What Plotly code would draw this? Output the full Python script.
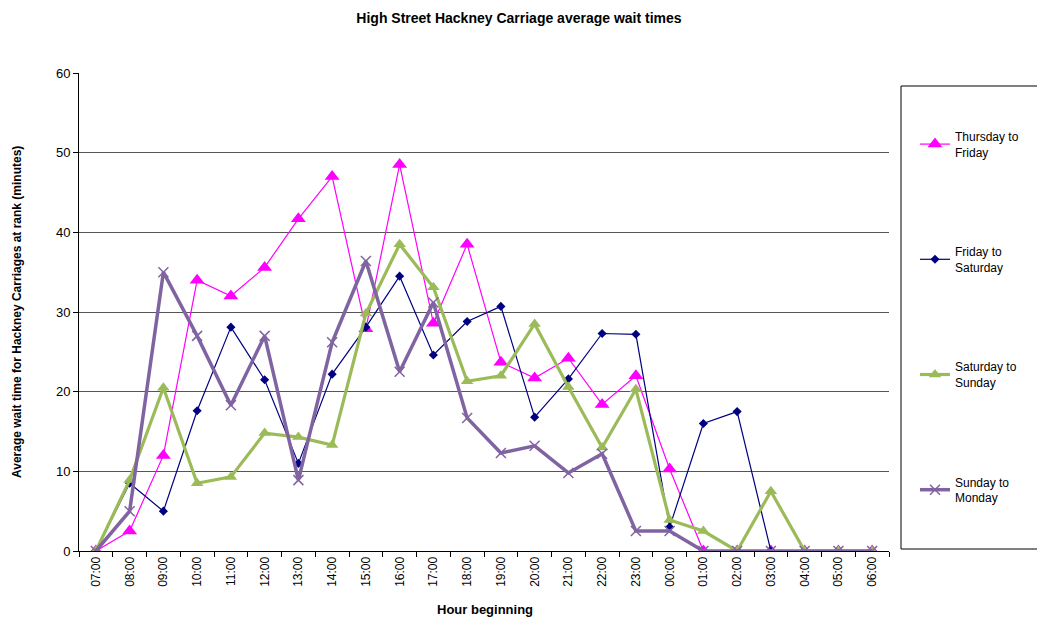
import plotly.graph_objects as go

hours = ["07:00","08:00","09:00","10:00","11:00","12:00","13:00","14:00","15:00","16:00","17:00","18:00",
         "19:00","20:00","21:00","22:00","23:00","00:00","01:00","02:00","03:00","04:00","05:00","06:00"]

thu_fri = [0, 2.5, 12, 34, 32, 35.6, 41.7, 47, 27.9, 48.5, 28.6, 38.5,
           23.7, 21.7, 24.2, 18.4, 22, 10.3, 0, 0, 0, 0, 0, 0]
fri_sat = [0, 8.5, 5, 17.6, 28.1, 21.5, 11, 22.2, 28.1, 34.5, 24.6, 28.8,
           30.7, 16.8, 21.6, 27.3, 27.2, 3, 16, 17.5, 0, 0, 0, 0]
sat_sun = [0, 8.9, 20.5, 8.5, 9.3, 14.8, 14.3, 13.3, 29.8, 38.5, 33.1, 21.3,
           22, 28.5, 20.6, 13, 20.3, 3.9, 2.5, 0, 7.5, 0, 0, 0]
sun_mon = [0, 5, 35, 27, 18.3, 27, 8.9, 26.2, 36.4, 22.5, 31.2, 16.7,
           12.3, 13.2, 9.8, 12.2, 2.5, 2.5, 0, 0, 0, 0, 0, 0]

series = [
    ("Thursday to<br>Friday", thu_fri, "#FF00FF", 1.2, "triangle-up", 13, None),
    ("Friday to<br>Saturday", fri_sat, "#000080", 1.2, "diamond", 7, None),
    ("Saturday to<br>Sunday", sat_sun, "#9BBB59", 3.2, "triangle-up", 11, None),
    ("Sunday to<br>Monday", sun_mon, "#8064A2", 3.5, "x-thin", 10, 1.5),
]

fig = go.Figure()
for i, (name, vals, color, lw, sym, ms, mlw) in enumerate(series):
    marker = dict(symbol=sym, size=ms, color=color)
    if mlw:
        marker["line"] = dict(color=color, width=mlw)
    fig.add_trace(go.Scatter(x=hours, y=vals, name=name, mode="lines+markers",
                             line=dict(color=color, width=lw), marker=marker,
                             legendgroup=f"g{i}"))

# page body has an 8px margin; work in page coords and subtract it
OFF = 8
W, H = 1037, 613
L, R, T, B = 79 - OFF, 889 - OFF, 73 - OFF, 551 - OFF
PW, PH = R - L, B - T

def px(x):
    return (x - OFF - L) / PW

def py(y):
    return 1 - (y - OFF - T) / PH

fig.update_layout(
    width=W, height=H,
    margin=dict(l=L, r=W - R, t=T, b=H - B, autoexpand=False),
    paper_bgcolor="white", plot_bgcolor="white",
    font=dict(family="Liberation Sans, Arial, sans-serif", size=12, color="black"),
    title=dict(text="<b>High Street Hackney Carriage average wait times</b>",
               x=(519 - OFF) / W, xanchor="center", y=1 - (18 - OFF) / H, yanchor="middle",
               font=dict(size=14)),
    showlegend=True,
    legend=dict(x=px(915), xanchor="left", y=py(122), yanchor="top",
                tracegroupgap=81, font=dict(size=12), bgcolor="rgba(0,0,0,0)",
                borderwidth=0),
    shapes=[dict(type="rect", xref="paper", yref="paper",
                 x0=px(901), x1=px(1043), y0=py(549), y1=py(86),
                 line=dict(color="black", width=1), fillcolor="rgba(0,0,0,0)")],
    annotations=[
        dict(text="<b>Average wait time for Hackney Carriages at rank (minutes)</b>",
             xref="paper", yref="paper", x=px(17), y=py(312), xanchor="center", yanchor="middle",
             textangle=-90, showarrow=False, font=dict(size=12)),
        dict(text="<b>Hour beginning</b>", xref="paper", yref="paper",
             x=px(485), y=py(609), xanchor="center", yanchor="middle",
             showarrow=False, font=dict(size=13)),
    ],
)

fig.update_xaxes(type="category", categoryorder="array", categoryarray=hours,
                 range=[-0.5, len(hours) - 0.5], automargin=False,
                 tickangle=-90, tickson="boundaries", ticks="outside", ticklen=5,
                 tickcolor="black", showline=True, linecolor="black", linewidth=1,
                 showgrid=False, tickfont=dict(size=12))
fig.update_yaxes(range=[0, 60], dtick=10, ticks="outside", ticklen=5, tickcolor="black",
                 showline=True, linecolor="black", linewidth=1, automargin=False,
                 showgrid=True, gridcolor="#555555", gridwidth=1, zeroline=False,
                 tickfont=dict(size=13))

fig.write_html("out.html")
